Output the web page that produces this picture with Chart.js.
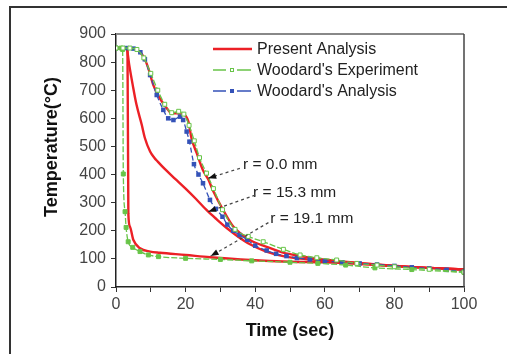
<!DOCTYPE html>
<html>
<head>
<meta charset="utf-8">
<script src="https://cdn.jsdelivr.net/npm/chart.js@4/dist/chart.umd.min.js"></script>
<style>
  body { margin: 0; background: #fff; }
  #wrap { position: relative; width: 507px; height: 354px; overflow: hidden; }
  #frame { position: absolute; left: 9px; top: 6px; width: 600px; height: 400px;
           border-left: 2px solid #333; border-top: 2px solid #333; }
  #myChart { position: absolute; left: 0; top: 0; }
</style>
</head>
<body>
<div id="wrap">
  <div id="frame"></div>
  <canvas id="myChart" width="507" height="354"></canvas>
</div>
<script>
// present analysis, r = 0.0 mm
const presentCenterTime = [0, 4, 6, 7.9, 9.3, 10.7, 12.6, 14.6, 16, 17.4, 19.3, 20.8, 21.7, 23.2, 25, 26.5, 28, 30.8, 33.7, 38.5, 43.3, 48, 53, 60, 70, 80, 90, 100];
const presentCenterTemp = [850, 850, 845, 820, 778, 719, 671, 636, 618, 618, 616, 588, 529, 476, 415, 383, 340, 274, 215, 167, 143, 122, 110, 97, 85, 75, 68, 62];

// present analysis, r = 15.3 mm
const presentMidTime = [0, 2.5, 3.1, 3.8, 4.8, 5.9, 7.4, 8.3, 9.8, 11, 12, 14, 17, 20, 23, 26, 29, 32, 35, 38.5, 43, 48, 53, 60, 70, 80, 90, 100];
const presentMidTemp = [850, 850, 847, 790, 719, 648, 577, 530, 482, 460, 446, 420, 385, 350, 313, 274, 240, 208, 180, 152, 127, 110, 101, 94, 85, 75, 68, 62];

// present analysis, r = 19.1 mm
const presentEdgeTime = [0, 3.0, 3.3, 3.55, 4.0, 5.0, 6.9, 9.8, 12.6, 20, 27, 38.5, 50, 60, 70, 80, 90, 100];
const presentEdgeTemp = [850, 850, 845, 260, 215, 167, 138, 126, 122, 114, 106, 96, 90, 88, 82, 74, 68, 62];

// Woodard's experiment, r = 0.0 mm
const expCenterTime = [0, 2, 4, 6, 8, 10, 12, 14, 16, 18, 19.5, 21, 22.5, 24, 26, 28, 30.6, 34.2, 38, 42.3, 48.1, 52.9, 57.7, 63.4, 69.2, 75, 80, 90, 100];
const expCenterTemp = [850, 850, 850, 845, 815, 760, 700, 650, 620, 625, 615, 575, 520, 460, 405, 350, 275, 205, 180, 161, 134, 114, 104, 96, 84, 78, 72, 63, 53];

// Woodard's experiment, r = 19.1 mm
const expEdgeTime = [0, 1.5, 1.9, 2.1, 2.6, 2.9, 3.5, 4.8, 6.9, 9.3, 12.2, 20, 30, 39, 50, 58, 66, 74.4, 85, 100];
const expEdgeTemp = [850, 850, 845, 402, 268, 212, 161, 141, 126, 114, 108, 102, 98, 93, 88, 84, 78, 68, 62, 52];

// Woodard's analysis, r = 0.0 mm
const anaTime = [0, 3, 5, 7, 8.3, 9.8, 11.7, 13.6, 15, 16.5, 18.4, 19.3, 20.3, 21.1, 22.4, 23.7, 25, 27, 28.7, 30.6, 32, 33.7, 35.5, 37.7, 40, 43.3, 46, 49, 52, 55.7, 60, 65, 70, 75, 80, 85, 90, 95, 100];
const anaTemp = [850, 850, 848, 835, 810, 754, 683, 630, 600, 594, 606, 594, 553, 517, 437, 400, 369, 310, 278, 250, 222, 200, 185, 168, 147, 130, 118, 110, 103, 98, 92, 88, 84, 80, 75, 70, 66, 61, 55];

const legendLabels = ['Present Analysis', "Woodard's Experiment", "Woodard's Analysis"];

// text labels with arrows, [label, text x, text y, tail x, tail y, tip x, tip y] in data units
const notes = [
  ['r = 0.0 mm', 36.5, 434, 35.6, 422, 26.5, 387],
  ['r = 15.3 mm', 39.4, 336, 40.0, 327, 26.5, 268],
  ['r = 19.1 mm', 44.3, 244, 43.8, 229, 27.2, 110]
];

const RED = 'rgb(236, 32, 38)';
const GREEN = 'rgb(104, 196, 72)';
const BLUE = 'rgb(52, 82, 184)';

function toPoints(xs, ys) {
  return xs.map((x, i) => ({ x: x, y: ys[i] }));
}

function redLine(xs, ys) {
  return {
    data: toPoints(xs, ys),
    borderColor: RED,
    borderWidth: 2.4,
    pointRadius: 0,
    showLine: true,
    cubicInterpolationMode: 'monotone'
  };
}

const datasets = [
  {
    data: toPoints(expCenterTime, expCenterTemp),
    borderColor: GREEN, borderWidth: 1.3, borderDash: [6, 2],
    pointStyle: 'rect', pointRadius: 2.8, pointBorderWidth: 1,
    pointBackgroundColor: '#fff', pointBorderColor: GREEN,
    showLine: true, cubicInterpolationMode: 'monotone'
  },
  {
    data: toPoints(expEdgeTime, expEdgeTemp),
    borderColor: GREEN, borderWidth: 1.3, borderDash: [6, 2],
    pointStyle: 'rect', pointRadius: 2.8, pointBorderWidth: 1,
    pointBackgroundColor: GREEN, pointBorderColor: GREEN,
    showLine: true, cubicInterpolationMode: 'monotone'
  },
  {
    data: toPoints(anaTime, anaTemp),
    borderColor: BLUE, borderWidth: 1.3, borderDash: [5, 3],
    pointStyle: 'rect', pointRadius: 3.2, pointBorderWidth: 0,
    pointBackgroundColor: BLUE,
    showLine: true, cubicInterpolationMode: 'monotone'
  },
  redLine(presentCenterTime, presentCenterTemp),
  redLine(presentMidTime, presentMidTemp),
  redLine(presentEdgeTime, presentEdgeTemp)
];

const extras = {
  id: 'extras',
  afterDatasetsDraw(chart) {
    const ctx = chart.ctx;
    const ca = chart.chartArea;
    const sx = chart.scales.x, sy = chart.scales.y;
    ctx.save();

    // top and right frame of the plot
    ctx.strokeStyle = '#888';
    ctx.lineWidth = 2;
    ctx.beginPath();
    ctx.moveTo(ca.left, ca.top);
    ctx.lineTo(ca.right, ca.top);
    ctx.stroke();
    ctx.strokeStyle = '#444';
    ctx.lineWidth = 1.5;
    ctx.beginPath();
    ctx.moveTo(ca.right, ca.top);
    ctx.lineTo(ca.right, ca.bottom);
    ctx.stroke();

    // legend
    const lx = ca.left + 97, ly = ca.top + 15;
    const styles = [
      { color: RED, width: 2.4, marker: null },
      { color: GREEN, width: 1.3, marker: 'open' },
      { color: BLUE, width: 1.3, marker: 'fill' }
    ];
    ctx.font = '16px "Liberation Sans", Arial, sans-serif';
    ctx.textBaseline = 'middle';
    legendLabels.forEach((label, i) => {
      const y = ly + i * 21;
      const st = styles[i];
      ctx.strokeStyle = st.color;
      ctx.lineWidth = st.width;
      ctx.beginPath();
      if (st.marker) {
        ctx.moveTo(lx, y); ctx.lineTo(lx + 13, y);
        ctx.moveTo(lx + 24, y); ctx.lineTo(lx + 38, y);
      } else {
        ctx.moveTo(lx, y); ctx.lineTo(lx + 39, y);
      }
      ctx.stroke();
      if (st.marker === 'open') {
        ctx.lineWidth = 1;
        ctx.strokeRect(lx + 17.5, y - 1.5, 3, 3);
      } else if (st.marker === 'fill') {
        ctx.fillStyle = st.color;
        ctx.fillRect(lx + 17, y - 2, 4, 4);
      }
      ctx.fillStyle = '#222';
      ctx.fillText(label, lx + 44, y + 1);
    });

    // r = ... labels with dashed arrows
    ctx.font = '15.5px "Liberation Sans", Arial, sans-serif';
    notes.forEach((n) => {
      const tx = sx.getPixelForValue(n[1]), ty = sy.getPixelForValue(n[2]);
      const ax = sx.getPixelForValue(n[3]), ay = sy.getPixelForValue(n[4]);
      const bx = sx.getPixelForValue(n[5]), by = sy.getPixelForValue(n[6]);
      ctx.fillStyle = '#222';
      ctx.fillText(n[0], tx, ty);
      ctx.strokeStyle = '#444';
      ctx.lineWidth = 1.2;
      ctx.setLineDash([3, 3]);
      ctx.beginPath();
      ctx.moveTo(ax, ay);
      ctx.lineTo(bx, by);
      ctx.stroke();
      ctx.setLineDash([]);
      const ang = Math.atan2(by - ay, bx - ax);
      ctx.fillStyle = '#111';
      ctx.beginPath();
      ctx.moveTo(bx, by);
      ctx.lineTo(bx - 8 * Math.cos(ang) + 3 * Math.sin(ang), by - 8 * Math.sin(ang) - 3 * Math.cos(ang));
      ctx.lineTo(bx - 8 * Math.cos(ang) - 3 * Math.sin(ang), by - 8 * Math.sin(ang) + 3 * Math.cos(ang));
      ctx.closePath();
      ctx.fill();
    });

    // y axis title
    ctx.translate(52, 147);
    ctx.rotate(-Math.PI / 2);
    ctx.textAlign = 'center';
    ctx.font = 'bold 18px "Liberation Sans", Arial, sans-serif';
    ctx.fillStyle = '#111';
    ctx.fillText('Temperature(°C)', 0, 0);
    ctx.restore();
  }
};

Chart.defaults.font.family = '"Liberation Sans", Arial, sans-serif';

const ctx1 = document.getElementById('myChart');
const myChart = new Chart(ctx1, {
  type: 'scatter',
  data: { datasets: datasets },
  options: {
    responsive: false,
    animation: false,
    layout: { padding: { top: 34, right: 43, left: 0, bottom: 0 } },
    plugins: {
      legend: { display: false },
      tooltip: { enabled: false }
    },
    scales: {
      x: {
        type: 'linear',
        min: 0,
        max: 100,
        afterFit: (scale) => { scale.height = 67; },
        border: { color: '#222', width: 1.5 },
        grid: { drawOnChartArea: false, tickLength: 5, color: '#333' },
        ticks: {
          stepSize: 10,
          padding: 3,
          color: '#444',
          font: { size: 16 },
          callback: (v) => (v % 20 === 0 ? v : '')
        },
        title: {
          display: true,
          text: 'Time (sec)',
          color: '#111',
          font: { size: 18, weight: 'bold' },
          padding: { top: 0, bottom: 12 }
        }
      },
      y: {
        min: 0,
        max: 900,
        afterFit: (scale) => { scale.width = 116; },
        border: { color: '#222', width: 1.5 },
        grid: { drawOnChartArea: false, tickLength: 5, color: '#333' },
        ticks: {
          stepSize: 50,
          padding: 5,
          color: '#444',
          font: { size: 16 },
          callback: (v) => (v % 100 === 0 ? v : '')
        }
      }
    }
  },
  plugins: [extras]
});
</script>
</body>
</html>
